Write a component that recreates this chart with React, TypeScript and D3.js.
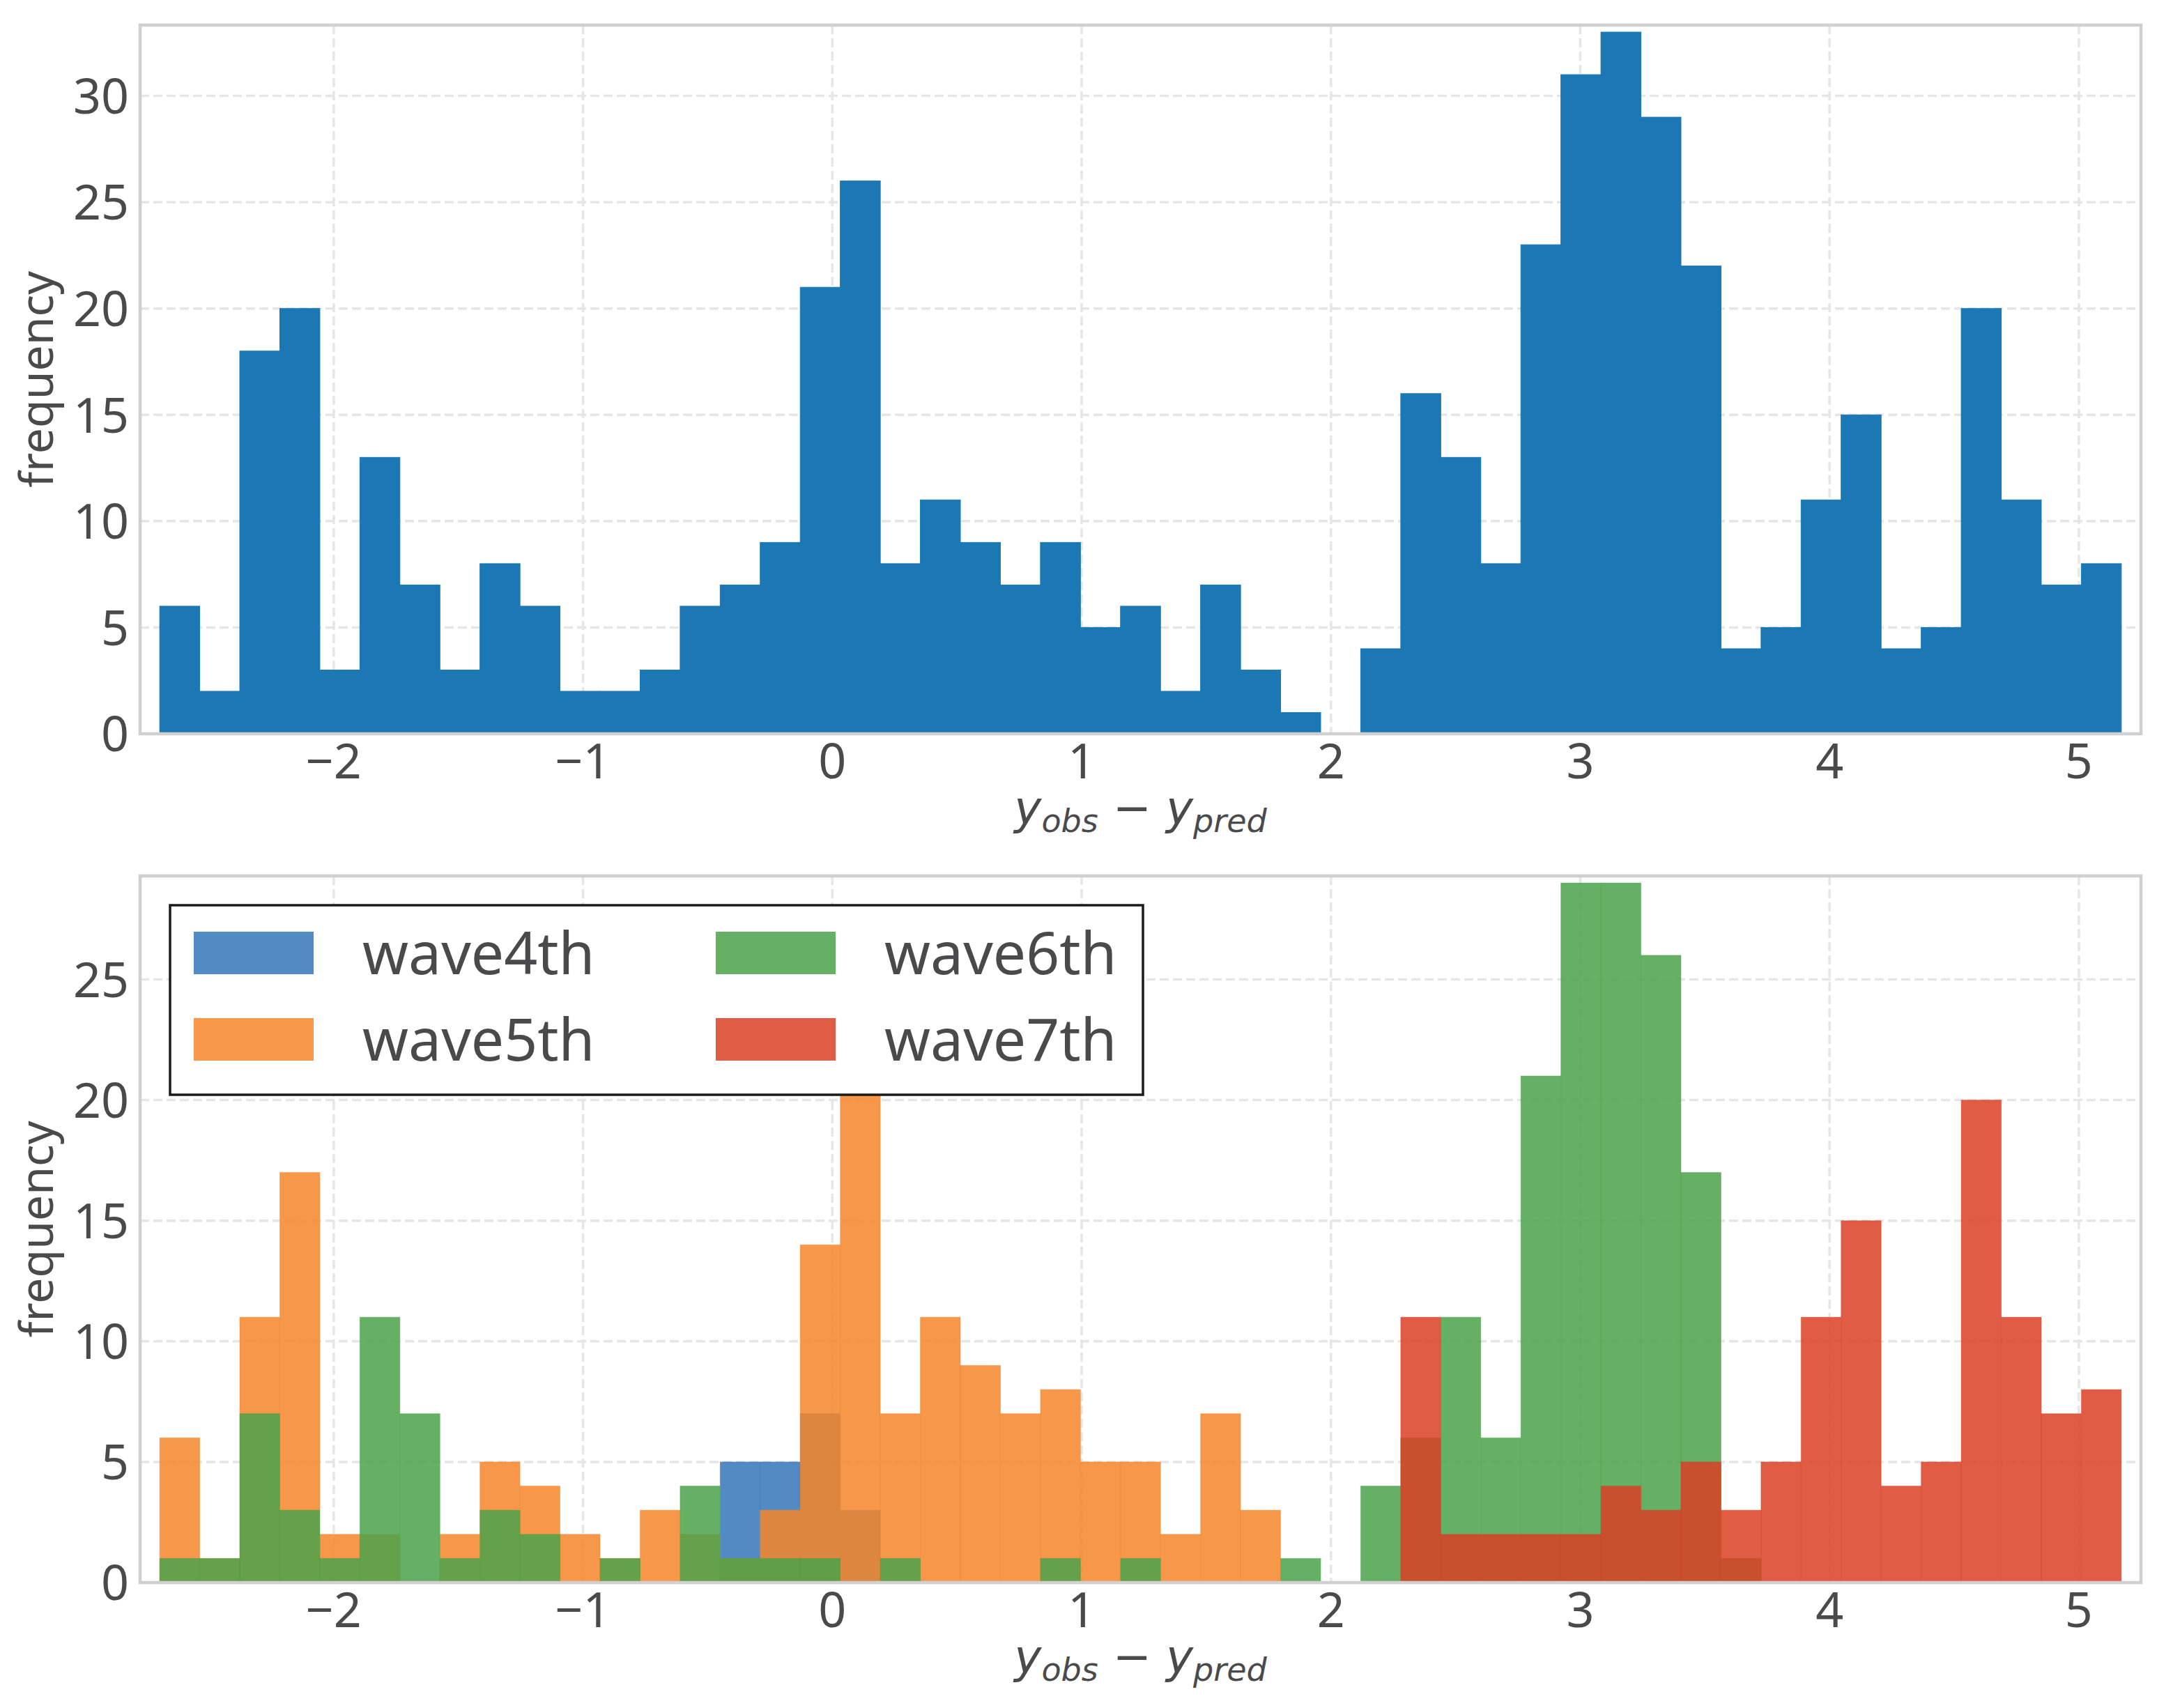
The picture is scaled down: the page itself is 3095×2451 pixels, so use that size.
import React from 'react';
import * as d3 from 'd3';

// histogram bins shared by both panels
const binStart = -2.698;
const binWidth = 0.16058;

const allCounts = [6, 2, 18, 20, 3, 13, 7, 3, 8, 6, 2, 2, 3, 6, 7, 9, 21, 26, 8, 11, 9, 7, 9, 5, 6, 2, 7, 3, 1, 0, 4, 16, 13, 8, 23, 31, 33, 29, 22, 4, 5, 11, 15, 4, 5, 20, 11, 7, 8];

const wave4th = [0, 0, 0, 0, 0, 0, 0, 0, 0, 0, 0, 0, 0, 0, 5, 5, 7, 3, 0, 0, 0, 0, 0, 0, 0, 0, 0, 0, 0, 0, 0, 0, 0, 0, 0, 0, 0, 0, 0, 0, 0, 0, 0, 0, 0, 0, 0, 0, 0];
const wave5th = [6, 1, 11, 17, 2, 2, 0, 2, 5, 4, 2, 1, 3, 2, 1, 3, 14, 23, 7, 11, 9, 7, 8, 5, 5, 2, 7, 3, 0, 0, 0, 0, 0, 0, 0, 0, 0, 0, 0, 0, 0, 0, 0, 0, 0, 0, 0, 0, 0];
const wave6th = [1, 1, 7, 3, 1, 11, 7, 1, 3, 2, 0, 1, 0, 4, 1, 1, 1, 0, 1, 0, 0, 0, 1, 0, 1, 0, 0, 0, 1, 0, 4, 6, 11, 6, 21, 29, 29, 26, 17, 1, 0, 0, 0, 0, 0, 0, 0, 0, 0];
const wave7th = [0, 0, 0, 0, 0, 0, 0, 0, 0, 0, 0, 0, 0, 0, 0, 0, 0, 0, 0, 0, 0, 0, 0, 0, 0, 0, 0, 0, 0, 0, 0, 11, 2, 2, 2, 2, 4, 3, 5, 3, 5, 11, 15, 4, 5, 20, 11, 7, 8];

const xTicks = [-2, -1, 0, 1, 2, 3, 4, 5];
const yTicksTop = [0, 5, 10, 15, 20, 25, 30];
const yTicksBottom = [0, 5, 10, 15, 20, 25];

type Series = { name: string; counts: number[]; color: string; opacity: number };

const W = 3095;
const H = 2451;
const left = 201;
const right = 3072;
const textColor = '#4a4a4c';
const tickFont = 'Noto Sans, sans-serif';

const nBins = allCounts.length;
const binEnd = binStart + nBins * binWidth;
const pad = (binEnd - binStart) * 0.01;

const x = d3.scaleLinear().domain([binStart - pad, binEnd + pad]).range([left, right]);

function Panel(props: { top: number; bottom: number; series: Series[]; yTicks: number[]; children?: React.ReactNode }) {
  const { top, bottom, series, yTicks } = props;
  const ymax = (d3.max(series, s => d3.max(s.counts)) as number) * 1.01;
  const y = d3.scaleLinear().domain([0, ymax]).range([bottom, top]);
  const mid = (top + bottom) / 2;

  return (
    <g>
      {/* grid */}
      {yTicks.map(t => (
        <line key={'gy' + t} x1={left} x2={right} y1={y(t)} y2={y(t)}
          stroke="#e6e6e6" strokeWidth={3.5} strokeDasharray="13,6" />
      ))}
      {xTicks.map(t => (
        <line key={'gx' + t} x1={x(t)} x2={x(t)} y1={top} y2={bottom}
          stroke="#e6e6e6" strokeWidth={3.5} strokeDasharray="13,6" />
      ))}

      {/* bars */}
      {series.map(s => (
        <g key={s.name}>
          {s.counts.map((c, i) => {
            if (c === 0) return null;
            const x0 = x(binStart + i * binWidth);
            const x1 = x(binStart + (i + 1) * binWidth);
            return (
              <rect key={i} x={x0} y={y(c)} width={x1 - x0} height={y(0) - y(c)}
                fill={s.color} fillOpacity={s.opacity}
                stroke={s.color} strokeOpacity={s.opacity < 1 ? s.opacity * 0.5 : 1} strokeWidth={1} />
            );
          })}
        </g>
      ))}

      {/* frame */}
      <rect x={left} y={top} width={right - left} height={bottom - top}
        fill="none" stroke="#d0d0d0" strokeWidth={4.5} />

      {/* tick labels */}
      {yTicks.map(t => (
        <text key={'ty' + t} x={185} y={y(t)} dy="0.36em" textAnchor="end"
          fontFamily={tickFont} fontSize={70} fill={textColor}>{t}</text>
      ))}
      {xTicks.map(t => (
        <text key={'tx' + t} x={x(t)} y={bottom + 64} textAnchor="middle"
          fontFamily={tickFont} fontSize={70} fill={textColor}>{t < 0 ? '\u2212' + Math.abs(t) : t}</text>
      ))}

      {/* axis labels */}
      <text transform={`translate(76, ${mid}) rotate(-90)`} textAnchor="middle"
        fontFamily={tickFont} fontSize={66} fill={textColor}>frequency</text>
      <text x={(left + right) / 2} y={bottom + 129} textAnchor="middle"
        fontFamily="DejaVu Sans, sans-serif" fontStyle="italic" fontSize={66} fill={textColor}>
        <tspan>y</tspan>
        <tspan fontSize={46} dy={12}>obs</tspan>
        <tspan dy={-12} fontStyle="normal">{' \u2212 '}</tspan>
        <tspan>y</tspan>
        <tspan fontSize={46} dy={12}>pred</tspan>
      </text>

      {props.children}
    </g>
  );
}

function Legend(props: { series: Series[] }) {
  const { series } = props;
  const box = { x: 244, y: 1299, w: 1396, h: 272 };
  const colX = [278, 1027];
  const rowY = [1337, 1461];
  return (
    <g>
      <rect x={box.x} y={box.y} width={box.w} height={box.h} fill="#ffffff" stroke="#1a1a1a" strokeWidth={3.5} />
      {series.map((s, i) => {
        const col = Math.floor(i / 2);
        const row = i % 2;
        return (
          <g key={s.name}>
            <rect x={colX[col]} y={rowY[row]} width={172} height={61} fill={s.color} fillOpacity={s.opacity} />
            <text x={colX[col] + 242} y={rowY[row] + 61} fontFamily={tickFont} fontSize={84} fill={textColor}>{s.name}</text>
          </g>
        );
      })}
    </g>
  );
}

export default function App() {
  const topSeries: Series[] = [{ name: 'all', counts: allCounts, color: '#1b78b4', opacity: 1 }];
  const waves: Series[] = [
    { name: 'wave4th', counts: wave4th, color: '#3475b8', opacity: 0.85 },
    { name: 'wave5th', counts: wave5th, color: '#f48529', opacity: 0.85 },
    { name: 'wave6th', counts: wave6th, color: '#4aa24a', opacity: 0.85 },
    { name: 'wave7th', counts: wave7th, color: '#da3f25', opacity: 0.85 },
  ];

  return (
    <svg width={W} height={H} style={{ position: 'absolute', left: 0, top: 0, background: '#fff' }}>
      <rect width={W} height={H} fill="#fff" />
      <Panel top={36} bottom={1053} series={topSeries} yTicks={yTicksTop} />
      <Panel top={1257} bottom={2271} series={waves} yTicks={yTicksBottom}>
        <Legend series={waves} />
      </Panel>
    </svg>
  );
}
